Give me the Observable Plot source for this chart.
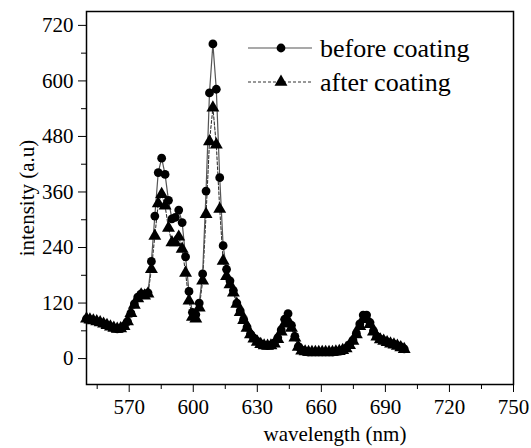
<!DOCTYPE html>
<html>
<head>
<meta charset="utf-8">
<script src="https://cdn.jsdelivr.net/npm/d3@7"></script>
<script src="https://cdn.jsdelivr.net/npm/@observablehq/plot@0.6"></script>
<style>
  html, body { margin: 0; padding: 0; background: white; }
  #wrap { position: relative; width: 531px; height: 448px; }
  #legend { position: absolute; left: 240px; top: 30px; }
</style>
</head>
<body>
<div id="wrap"></div>
<script>
const wavelength = [550.0,551.6,553.2,554.8,556.4,558.0,559.6,561.2,562.8,564.4,566.0,567.6,569.2,570.8,572.4,574.0,575.6,577.2,578.8,580.4,582.0,583.6,585.2,586.8,588.4,590.0,591.6,593.2,594.8,596.4,598.0,599.6,601.2,602.8,604.4,606.0,607.6,609.2,610.8,612.4,614.0,615.6,617.2,618.8,620.4,622.0,623.6,625.2,626.8,628.4,630.0,631.6,633.2,634.8,636.4,638.0,639.6,641.2,642.8,644.4,646.0,647.6,649.2,650.8,652.4,654.0,655.6,657.2,658.8,660.4,662.0,663.6,665.2,666.8,668.4,670.0,671.6,673.2,674.8,676.4,678.0,679.6,681.2,682.8,684.4,686.0,687.6,689.2,690.8,692.4,694.0,695.6,697.2,698.8];
const beforeCoating = [86,84,82,80,78,75,72,69,66,64,65,70,80,98,118,133,140,138,142,210,308,402,433,398,342,302,305,321,294,220,145,100,95,120,183,362,574,680,582,391,244,193,168,147,120,103,85,68,53,44,37,32,29,28,29,34,45,62,85,97,72,48,26,18,15,14,14,14,14,14,14,14,14,15,16,18,22,30,40,55,75,94,94,78,60,48,42,39,36,33,31,28,25,21];
const afterCoating = [86,84,82,80,78,75,72,69,66,64,65,70,80,98,116,130,138,136,140,193,265,335,355,330,282,251,251,263,237,185,125,90,86,110,168,312,469,542,462,323,211,178,160,142,118,100,83,66,52,43,36,31,28,27,28,32,42,58,75,82,66,45,25,17,15,14,14,14,14,14,14,14,14,15,16,18,22,29,38,52,70,85,85,74,58,47,41,38,35,32,30,27,24,20];
const xMajorTicks = [570,600,630,660,690,720,750];
const xMinorTicks = [555,585,615,645,675,705,735];
const yMajorTicks = [0,120,240,360,480,600,720];
const yMinorTicks = [60,180,300,420,540,660];
const seriesNames = ["before coating","after coating"];

const before = wavelength.map((w, i) => ({w, v: beforeCoating[i]}));
const after = wavelength.map((w, i) => ({w, v: afterCoating[i]}));

const chart = Plot.plot({
  width: 531, height: 448,
  marginLeft: 86, marginRight: 18, marginTop: 11, marginBottom: 64,
  style: {fontFamily: "'Liberation Serif', 'Times New Roman', serif", fontSize: "21px", color: "black", background: "white"},
  x: {domain: [550, 750]},
  y: {domain: [-56, 750]},
  marks: [
    Plot.axisX({ticks: xMajorTicks, tickSize: 8, tickPadding: 7, label: null, fontSize: 21}),
    Plot.axisX({ticks: xMinorTicks, tickSize: 5, tickFormat: () => "", label: null}),
    Plot.axisY({ticks: yMajorTicks, tickSize: 8, tickPadding: 5, fontSize: 21, label: "intensity (a.u)", labelAnchor: "center", labelArrow: "none", labelOffset: 67}),
    Plot.axisY({ticks: yMinorTicks, tickSize: 5, tickFormat: () => "", label: null}),
    Plot.line(after, {x: "w", y: "v", stroke: "#333", strokeWidth: 1.1, strokeDasharray: "3,2"}),
    Plot.line(before, {x: "w", y: "v", stroke: "#555", strokeWidth: 1.2}),
    Plot.dot(after, {x: "w", y: "v", symbol: "triangle", r: 4.8, fill: "black", stroke: "none"}),
    Plot.dot(before, {x: "w", y: "v", symbol: "circle", r: 4.4, fill: "black", stroke: "none"}),
    Plot.frame({stroke: "black", strokeWidth: 1.5}),
    Plot.text(["wavelength (nm)"], {frameAnchor: "bottom", dx: 35, dy: 50, lineAnchor: "middle", fontSize: 21})
  ]
});
const wrap = document.getElementById("wrap");
wrap.appendChild(chart);

// legend
const lg = d3.select(wrap).append("svg").attr("id", "legend").attr("width", 270).attr("height", 70)
  .style("font-family", "'Liberation Serif', 'Times New Roman', serif");
seriesNames.forEach((name, i) => {
  const y = 18 + i * 34;
  lg.append("line").attr("x1", 8).attr("x2", 72).attr("y1", y).attr("y2", y)
    .attr("stroke", i === 0 ? "#555" : "#333").attr("stroke-width", 1.2)
    .attr("stroke-dasharray", i === 0 ? null : "3,2");
  if (i === 0) lg.append("path").attr("d", d3.symbol(d3.symbolCircle, Math.PI * 4.4 * 4.4)()).attr("transform", `translate(41,${y})`);
  else lg.append("path").attr("d", d3.symbol(d3.symbolTriangle, Math.PI * 4.8 * 4.8)()).attr("transform", `translate(41,${y})`);
  lg.append("text").attr("x", 80).attr("y", y).attr("dominant-baseline", "central").attr("font-size", 26).text(name);
});
</script>
</body>
</html>
